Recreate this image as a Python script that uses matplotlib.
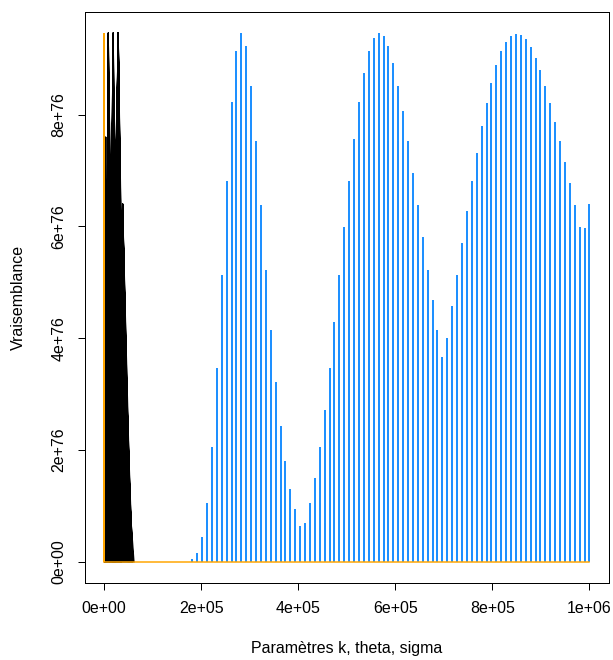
import numpy as np
import matplotlib
matplotlib.use("Agg")
import matplotlib.pyplot as plt
from matplotlib.ticker import FuncFormatter, FixedLocator

plt.rcParams['font.family'] = ['Liberation Sans', 'DejaVu Sans']

UNIT = 1e76  # likelihood values below are given in units of 1e76

# grid of theta values: seq(0, 1e6, length = 100); only indices >= 18 carry visible likelihood
theta_grid = np.linspace(0, 1e6, 100)
theta_first = 18
theta_lik = [
    0.05, 0.16, 0.45, 1.05, 2.06, 3.47, 5.14, 6.81, 8.22, 9.13,
    9.46, 9.22, 8.52, 7.52, 6.38, 5.23, 4.15, 3.22, 2.43, 1.81,
    1.30, 0.94, 0.65, 0.70, 1.05, 1.50, 2.06, 2.71, 3.47, 4.29,
    5.14, 5.99, 6.81, 7.56, 8.22, 8.74, 9.13, 9.37, 9.46, 9.40,
    9.22, 8.92, 8.52, 8.06, 7.52, 6.96, 6.38, 5.81, 5.23, 4.68,
    4.15, 3.66, 4.01, 4.58, 5.14, 5.71, 6.27, 6.81, 7.32, 7.79,
    8.21, 8.57, 8.88, 9.13, 9.30, 9.41, 9.45, 9.43, 9.36, 9.21,
    9.02, 8.79, 8.51, 8.21, 7.87, 7.52, 7.15, 6.77, 6.38, 5.99,
    5.98, 6.41,
]

# trace of k values with their likelihood (unsorted, drawn as a line)
k_trace = [
    500, 1500, 1000, 3500, 1800, 8900, 2600, 8900, 3400, 8900,
    4200, 19100, 5000, 3500, 5800, 8900, 6600, 29400, 7400, 8900,
    8200, 19100, 9000, 8900, 9800, 29400, 10600, 19100, 11400, 19100,
    12200, 8900, 13000, 19100, 13800, 29400, 14600, 19100, 15400, 29400,
    16200, 8900, 17000, 29400, 17800, 19100, 18600, 19100, 19400, 29400,
    20200, 38500, 21000, 19100, 21800, 29400, 22600, 29400, 23400, 8900,
    24200, 29400, 25000, 38500, 25800, 19100, 26600, 29400, 27400, 41500,
    28200, 29400, 29000, 38500, 29800, 19100, 30600, 29400, 31400, 46000,
    32200, 29400, 33000, 38500, 33800, 29400, 34600, 29400, 35400, 50000,
    36200, 38500, 37000, 29400, 38000, 41500, 39000, 38500, 40000, 29400,
    41000, 46000, 42000, 38500, 43000, 29400, 44000, 41500, 45000, 29400,
    46000, 38500, 47000, 46000, 48000, 38500, 49000, 41500, 50000, 38500,
    51000, 46000, 52000, 38500, 53000, 41500, 54000, 38500, 55000, 46000,
    56000, 38500, 57000, 50000, 58000, 46000, 59000, 50000, 60000, 52000,
    62000,
]
k_lik = [
    0, 7.0, 0, 7.6, 0, 9.46, 0, 9.46, 0, 9.46,
    0, 9.46, 0, 7.6, 0, 9.46, 0, 9.46, 0, 9.46,
    0, 9.46, 0, 9.46, 0, 9.46, 0, 9.46, 0, 9.46,
    0, 9.46, 0, 9.46, 0, 9.46, 0, 9.46, 0, 9.46,
    0, 9.46, 0, 9.46, 0, 9.46, 0, 9.46, 0, 9.46,
    0, 6.4, 0, 9.46, 0, 9.46, 0, 9.46, 0, 9.46,
    0, 9.46, 0, 6.4, 0, 9.46, 0, 9.46, 0, 5.0,
    0, 9.46, 0, 6.4, 0, 9.46, 0, 9.46, 0, 3.3,
    0, 9.46, 0, 6.4, 0, 9.46, 0, 9.46, 0, 1.9,
    0, 6.4, 0, 9.46, 0, 5.0, 0, 6.4, 0, 9.46,
    0, 3.3, 0, 6.4, 0, 9.46, 0, 5.0, 0, 9.46,
    0, 6.4, 0, 3.3, 0, 6.4, 0, 5.0, 0, 6.4,
    0, 3.3, 0, 6.4, 0, 5.0, 0, 6.4, 0, 3.3,
    0, 6.4, 0, 1.9, 0, 3.3, 0, 1.9, 0, 1.2,
    0,
]

# sigma: all the mass sits at sigma = 0
sigma_vals = [0.0]
sigma_lik = [9.46]

x_ticks = [0, 2e5, 4e5, 6e5, 8e5, 1e6]
y_ticks = [0, 2, 4, 6, 8]

BLUE = "#1E90FF"
ORANGE = "#FFA500"
PX = 72 / 100  # one pixel in points at dpi 100
FS = 11.5

fig = plt.figure(figsize=(6.13, 6.6), dpi=100)
ax = fig.add_axes([84.6 / 613, 1 - 583.2 / 660, (608.9 - 84.6) / 613, (583.2 - 11.8) / 660])

theta = theta_grid[theta_first:]
lik_theta = np.array(theta_lik) * UNIT
ax.vlines(theta, 0, lik_theta, colors=BLUE, linewidth=2.0 * PX)

ax.plot(k_trace, np.array(k_lik) * UNIT, color="black", linewidth=1.0 * PX,
        solid_joinstyle="round")

ax.plot([theta_grid[0], theta_grid[-1]], [0, 0], color=ORANGE, linewidth=1.5 * PX)
ax.vlines(sigma_vals, 0, np.array(sigma_lik) * UNIT, colors=ORANGE, linewidth=2.0 * PX)

ymax = max(max(theta_lik), max(k_lik), max(sigma_lik)) * UNIT
ax.set_xlim(-0.04 * 1e6, 1.04 * 1e6)
ax.set_ylim(-0.04 * ymax, 1.04 * ymax)

ax.xaxis.set_major_locator(FixedLocator(x_ticks))
ax.yaxis.set_major_locator(FixedLocator([v * UNIT for v in y_ticks]))
fmt = FuncFormatter(lambda v, pos: f"{v:.0e}")
ax.xaxis.set_major_formatter(fmt)
ax.yaxis.set_major_formatter(fmt)

for s in ax.spines.values():
    s.set_linewidth(1.0 * PX)
ax.tick_params(direction="out", length=7.2 * PX, width=1.0 * PX, labelsize=FS,
               color="black")
ax.tick_params(axis="x", pad=7.5)
ax.tick_params(axis="y", pad=8, labelrotation=90)
for lab in ax.get_yticklabels():
    lab.set_va("center")

fig.text(346.7 / 613, 1 - 649 / 660, "Paramètres k, theta, sigma", ha="center",
         va="center", fontsize=FS)
fig.text(18.5 / 613, 1 - 297.5 / 660, "Vraisemblance", ha="center", va="center",
         rotation=90, fontsize=FS)

fig.savefig("out.png", dpi=100)
